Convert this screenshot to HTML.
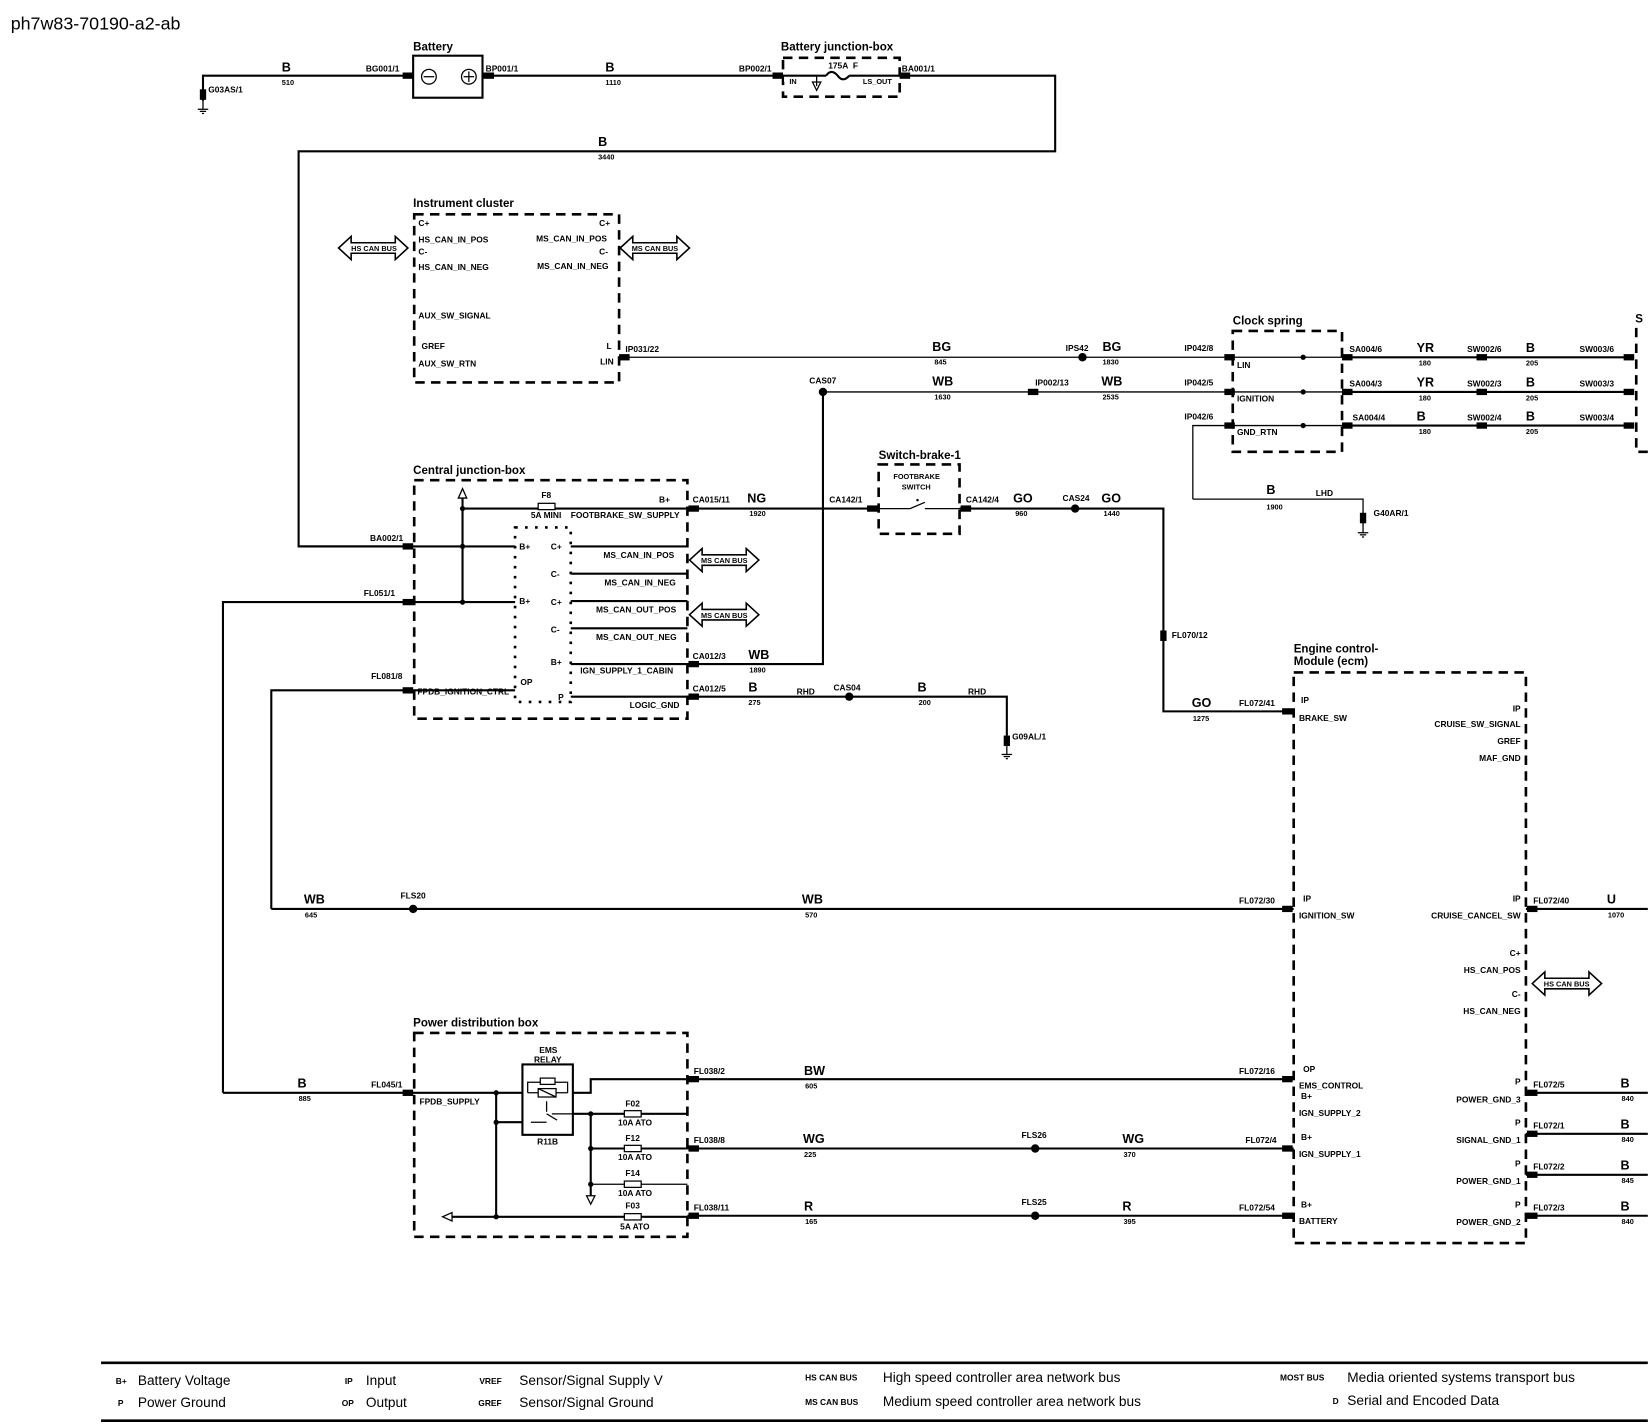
<!DOCTYPE html>
<html><head><meta charset="utf-8"><style>
html,body{margin:0;padding:0;background:#fff}
svg{display:block}
text{font-family:"Liberation Sans",Arial,sans-serif;fill:#000}
.s{font-size:8px;font-weight:bold}
.c{font-size:12px;font-weight:bold}
.n{font-size:7px;font-weight:bold}
.t{font-size:11px;font-weight:bold}
.l{font-size:13px}
.w{stroke:#000;stroke-width:2;fill:none}
.th{stroke:#000;stroke-width:1.2;fill:none}
.d{stroke:#000;stroke-width:2.5;fill:none;stroke-dasharray:9,6}
.dt{stroke:#000;stroke-width:2.5;fill:none;stroke-dasharray:2.5,7}
</style></head><body>
<svg width="1648" height="1428" viewBox="0 0 1568 1359" xmlns="http://www.w3.org/2000/svg">
<defs>
<g id="bus"><polygon points="0,0 12,-11 12,-5 54,-5 54,-11 66,0 54,11 54,5 12,5 12,11" fill="#fff" stroke="#000" stroke-width="1.5"/></g>
<g id="gnd"><line x1="0" y1="0" x2="0" y2="8" stroke="#000" stroke-width="1.2"/><line x1="-5" y1="8" x2="5" y2="8" stroke="#000" stroke-width="1.2"/><line x1="-3" y1="10" x2="3" y2="10" stroke="#000" stroke-width="1.2"/><line x1="-1" y1="12" x2="1" y2="12" stroke="#000" stroke-width="1.2"/></g>
<rect id="cn" x="-5" y="-3" width="10" height="6" fill="#000"/>
<rect id="cv" x="-3" y="-5" width="6" height="10" fill="#000"/>
</defs>
<text x="10" y="28" style="font-size:17px">ph7w83-70190-a2-ab</text>

<!-- top -->
<path class="w" d="M193,96 V72 H393 M459,72 H745 M856,72 H1004 V144 H284 V520 H393"/>
<use href="#cv" x="193" y="90"/><use href="#gnd" x="193" y="96"/>
<text class="s" x="198" y="88">G03AS/1</text>
<text class="c" x="268" y="68">B</text><text class="n" x="268" y="81">510</text>
<text class="s" x="348" y="68">BG001/1</text>
<use href="#cn" x="388" y="72"/><use href="#cn" x="465" y="72"/>
<rect x="393" y="53" width="66" height="40" fill="#fff" stroke="#000" stroke-width="2"/>
<text class="t" x="393" y="48">Battery</text>
<circle cx="408" cy="73" r="7" class="th"/><line x1="403" y1="73" x2="413" y2="73" class="th"/>
<circle cx="446" cy="73" r="7" class="th"/><line x1="441" y1="73" x2="451" y2="73" class="th"/><line x1="446" y1="68" x2="446" y2="78" class="th"/>
<text class="s" x="462" y="68">BP001/1</text>
<text class="c" x="576" y="68">B</text><text class="n" x="576" y="81">1110</text>
<text class="s" x="703" y="68">BP002/1</text>
<use href="#cn" x="740" y="72"/><use href="#cn" x="861" y="72"/>
<rect x="745" y="55" width="111" height="37" class="d"/>
<rect x="746" y="66" width="108" height="12" fill="#fff"/>
<path class="w" d="M745,72 H786 M808,72 H856"/>
<path class="w" d="M786,72 q5,-7 11,0 q5,7 11,0"/>
<path class="th" d="M777,72 V82 M773,78 L777,86 L781,78 Z"/>
<text class="t" x="743" y="48">Battery junction-box</text>
<text class="n" x="751" y="80">IN</text><text class="s" x="788" y="65">175A&#160;&#160;F</text><text class="n" x="821" y="80">LS_OUT</text>
<text class="s" x="858" y="68">BA001/1</text>
<text class="c" x="569" y="139">B</text><text class="n" x="569" y="152">3440</text>

<!-- instrument cluster -->
<rect x="394" y="204" width="195" height="160" class="d"/>
<text class="t" x="393" y="197">Instrument cluster</text>
<text class="s" x="398" y="215">C+</text><text class="s" x="398" y="231">HS_CAN_IN_POS</text><text class="s" x="398" y="242">C-</text><text class="s" x="398" y="257">HS_CAN_IN_NEG</text>
<text class="s" x="398" y="303">AUX_SW_SIGNAL</text><text class="s" x="401" y="332">GREF</text><text class="s" x="398" y="349">AUX_SW_RTN</text>
<text class="s" x="570" y="215">C+</text><text class="s" x="510" y="230">MS_CAN_IN_POS</text><text class="s" x="570" y="242">C-</text><text class="s" x="511" y="256">MS_CAN_IN_NEG</text>
<text class="s" x="577" y="332">L</text><text class="s" x="571" y="347">LIN</text>
<use href="#bus" x="322" y="236"/><text class="n" x="334" y="239">HS CAN BUS</text>
<use href="#bus" x="590" y="236"/><text class="n" x="601" y="239">MS CAN BUS</text>

<!-- LIN / WB / GND rows -->
<path class="th" d="M589,340 H1173 M783,373 H1173 M1135,475 V405 H1173 M1135,475 H1297 V500"/>
<path class="w" d="M1277,340 H1555 M1277,373 H1555 M1277,405 H1555"/>
<use href="#cn" x="594" y="340"/>
<text class="s" x="595" y="335">IP031/22</text>
<text class="c" x="887" y="334">BG</text><text class="n" x="889" y="347">845</text>
<circle cx="1030" cy="340" r="4"/><text class="s" x="1014" y="334">IPS42</text>
<text class="c" x="1049" y="334">BG</text><text class="n" x="1049" y="347">1830</text>
<text class="s" x="1127" y="334">IP042/8</text><use href="#cn" x="1170" y="340"/>
<circle cx="783" cy="373" r="4"/><text class="s" x="770" y="365">CAS07</text>
<text class="c" x="887" y="367">WB</text><text class="n" x="889" y="380">1630</text>
<use href="#cn" x="983" y="373"/><text class="s" x="985" y="367">IP002/13</text>
<text class="c" x="1048" y="367">WB</text><text class="n" x="1049" y="380">2535</text>
<text class="s" x="1127" y="367">IP042/5</text><use href="#cn" x="1170" y="373"/>
<text class="s" x="1127" y="399">IP042/6</text><use href="#cn" x="1170" y="405"/>
<text class="c" x="1205" y="470">B</text><text class="s" x="1252" y="472">LHD</text><text class="n" x="1205" y="485">1900</text>
<use href="#cv" x="1297" y="493"/><use href="#gnd" x="1297" y="499"/><text class="s" x="1307" y="491">G40AR/1</text>

<rect x="1173" y="315" width="104" height="115" class="d"/>
<text class="t" x="1173" y="309">Clock spring</text>
<path class="th" d="M1173,340 H1277 M1173,373 H1277 M1173,405 H1277"/>
<text class="s" x="1177" y="350">LIN</text><text class="s" x="1177" y="382">IGNITION</text><text class="s" x="1177" y="414">GND_RTN</text>
<circle cx="1240" cy="340" r="2.5"/><circle cx="1240" cy="373" r="2.5"/><circle cx="1240" cy="405" r="2.5"/>
<use href="#cn" x="1282" y="340"/><use href="#cn" x="1282" y="373"/><use href="#cn" x="1282" y="405"/>
<text class="s" x="1284" y="335">SA004/6</text><text class="c" x="1348" y="335">YR</text><text class="n" x="1350" y="348">180</text>
<text class="s" x="1396" y="335">SW002/6</text><text class="c" x="1452" y="335">B</text><text class="n" x="1452" y="348">205</text>
<text class="s" x="1503" y="335">SW003/6</text>
<text class="s" x="1284" y="368">SA004/3</text><text class="c" x="1348" y="368">YR</text><text class="n" x="1350" y="381">180</text>
<text class="s" x="1396" y="368">SW002/3</text><text class="c" x="1452" y="368">B</text><text class="n" x="1452" y="381">205</text>
<text class="s" x="1503" y="368">SW003/3</text>
<text class="s" x="1287" y="400">SA004/4</text><text class="c" x="1348" y="400">B</text><text class="n" x="1350" y="413">180</text>
<text class="s" x="1396" y="400">SW002/4</text><text class="c" x="1452" y="400">B</text><text class="n" x="1452" y="413">205</text>
<text class="s" x="1503" y="400">SW003/4</text>
<use href="#cn" x="1410" y="340"/><use href="#cn" x="1410" y="373"/><use href="#cn" x="1410" y="405"/>
<use href="#cn" x="1550" y="340"/><use href="#cn" x="1550" y="373"/><use href="#cn" x="1550" y="405"/>
<path class="d" d="M1557,312 V430 H1568"/>
<text class="t" x="1556" y="307">S</text>

<!-- central junction box -->
<rect x="394" y="457" width="260" height="227" class="d"/>
<rect x="490" y="502" width="53" height="166" class="dt"/>
<text class="t" x="393" y="451">Central junction-box</text>
<path class="w" d="M440,573 V474 M440,484 H512 M528,484 H836 M284,520 H490 M212,1040 V573 H490 M258,865 V657 H490"/>
<path class="th" d="M436,474 L440,465 L444,474 Z"/>
<circle cx="440" cy="484" r="2.5"/><circle cx="440" cy="520" r="2.5"/><circle cx="440" cy="573" r="2.5"/>
<rect x="512" y="479" width="16" height="6" fill="#fff" stroke="#000" stroke-width="1.2"/>
<text class="s" x="515" y="474">F8</text><text class="s" x="505" y="493">5A MINI</text>
<text class="s" x="627" y="478">B+</text><text class="s" x="543" y="493">FOOTBRAKE_SW_SUPPLY</text>
<use href="#cn" x="388" y="520"/><text class="s" x="352" y="515">BA002/1</text>
<use href="#cn" x="388" y="573"/><text class="s" x="346" y="567">FL051/1</text>
<use href="#cn" x="388" y="657"/><text class="s" x="353" y="646">FL081/8</text>
<text class="s" x="494" y="523">B+</text><text class="s" x="494" y="575">B+</text><text class="s" x="495" y="652">OP</text>
<path class="w" d="M543,520 H654 M543,546 H654 M543,572 H654 M543,598 H654 M783,373 V632 H543 M543,663 H958 V710"/>
<text class="s" x="524" y="523">C+</text><text class="s" x="574" y="531">MS_CAN_IN_POS</text>
<text class="s" x="524" y="549">C-</text><text class="s" x="575" y="557">MS_CAN_IN_NEG</text>
<text class="s" x="524" y="576">C+</text><text class="s" x="567" y="583">MS_CAN_OUT_POS</text>
<text class="s" x="524" y="602">C-</text><text class="s" x="567" y="609">MS_CAN_OUT_NEG</text>
<text class="s" x="524" y="633">B+</text><text class="s" x="552" y="641">IGN_SUPPLY_1_CABIN</text>
<text class="s" x="397" y="661">FPDB_IGNITION_CTRL</text>
<text class="s" x="531" y="666">P</text><text class="s" x="599" y="674">LOGIC_GND</text>
<use href="#bus" x="656" y="533"/><text class="n" x="667" y="536">MS CAN BUS</text>
<use href="#bus" x="656" y="585"/><text class="n" x="667" y="588">MS CAN BUS</text>
<use href="#cn" x="660" y="484"/><use href="#cn" x="660" y="632"/><use href="#cn" x="660" y="663"/>
<text class="s" x="659" y="478">CA015/11</text><text class="c" x="711" y="478">NG</text><text class="n" x="713" y="491">1920</text>
<text class="s" x="659" y="627">CA012/3</text><text class="c" x="712" y="627">WB</text><text class="n" x="713" y="640">1890</text>
<text class="s" x="659" y="658">CA012/5</text><text class="c" x="712" y="658">B</text><text class="n" x="712" y="671">275</text>
<text class="s" x="758" y="661">RHD</text><circle cx="808" cy="663" r="4"/><text class="s" x="793" y="657">CAS04</text>
<text class="c" x="873" y="658">B</text><text class="n" x="874" y="671">200</text><text class="s" x="921" y="661">RHD</text>
<use href="#cv" x="958" y="705"/><use href="#gnd" x="958" y="710"/><text class="s" x="963" y="704">G09AL/1</text>

<!-- switch brake -->
<rect x="836" y="442" width="77" height="66" class="d"/>
<text class="t" x="836" y="437">Switch-brake-1</text>
<text class="n" x="850" y="456">FOOTBRAKE</text><text class="n" x="858" y="466">SWITCH</text>
<path class="th" d="M836,484 H866 L880,478 M880,484 H913"/><circle cx="873" cy="476" r="1.2"/>
<use href="#cn" x="830" y="484"/><use href="#cn" x="919" y="484"/>
<text class="s" x="789" y="478">CA142/1</text><text class="s" x="919" y="478">CA142/4</text>
<path class="w" d="M913,484 H1107 V677 H1231"/>
<text class="c" x="964" y="478">GO</text><text class="n" x="966" y="491">960</text>
<circle cx="1023" cy="484" r="4"/><text class="s" x="1011" y="477">CAS24</text>
<text class="c" x="1048" y="478">GO</text><text class="n" x="1050" y="491">1440</text>
<use href="#cv" x="1107" y="605"/><text class="s" x="1115" y="607">FL070/12</text>
<text class="c" x="1134" y="673">GO</text><text class="n" x="1135" y="686">1275</text>
<text class="s" x="1179" y="672">FL072/41</text><use href="#cn" x="1225" y="677"/>

<!-- WB ignition -->
<path class="w" d="M258,865 H1231"/>
<text class="c" x="289" y="860">WB</text><text class="n" x="290" y="873">645</text>
<circle cx="393" cy="865" r="4"/><text class="s" x="381" y="855">FLS20</text>
<text class="c" x="763" y="860">WB</text><text class="n" x="766" y="873">570</text>
<text class="s" x="1179" y="860">FL072/30</text><use href="#cn" x="1225" y="865"/>

<!-- ECM -->
<rect x="1231" y="640" width="221" height="543" class="d"/>
<text class="t" x="1231" y="621">Engine control-</text><text class="t" x="1231" y="633">Module (ecm)</text>
<text class="s" x="1238" y="669">IP</text><text class="s" x="1236" y="686">BRAKE_SW</text>
<text class="s" x="1240" y="858">IP</text><text class="s" x="1236" y="874">IGNITION_SW</text>
<text class="s" x="1240" y="1020">OP</text><text class="s" x="1236" y="1036">EMS_CONTROL</text>
<text class="s" x="1238" y="1046">B+</text><text class="s" x="1236" y="1062">IGN_SUPPLY_2</text>
<text class="s" x="1238" y="1085">B+</text><text class="s" x="1236" y="1101">IGN_SUPPLY_1</text>
<text class="s" x="1238" y="1149">B+</text><text class="s" x="1236" y="1165">BATTERY</text>
<g text-anchor="end">
<text class="s" x="1447" y="677">IP</text><text class="s" x="1447" y="692">CRUISE_SW_SIGNAL</text>
<text class="s" x="1447" y="708">GREF</text><text class="s" x="1447" y="724">MAF_GND</text>
<text class="s" x="1447" y="858">IP</text><text class="s" x="1447" y="874">CRUISE_CANCEL_SW</text>
<text class="s" x="1447" y="910">C+</text><text class="s" x="1447" y="926">HS_CAN_POS</text>
<text class="s" x="1447" y="949">C-</text><text class="s" x="1447" y="965">HS_CAN_NEG</text>
<text class="s" x="1447" y="1032">P</text><text class="s" x="1447" y="1049">POWER_GND_3</text>
<text class="s" x="1447" y="1071">P</text><text class="s" x="1447" y="1088">SIGNAL_GND_1</text>
<text class="s" x="1447" y="1110">P</text><text class="s" x="1447" y="1127">POWER_GND_1</text>
<text class="s" x="1447" y="1149">P</text><text class="s" x="1447" y="1166">POWER_GND_2</text>
</g>
<path class="w" d="M1452,865 H1568 M1452,1040 H1568 M1452,1079 H1568 M1452,1118 H1568 M1452,1157 H1568"/>
<use href="#cn" x="1458" y="865"/><use href="#cn" x="1458" y="1040"/><use href="#cn" x="1458" y="1079"/><use href="#cn" x="1458" y="1118"/><use href="#cn" x="1458" y="1157"/>
<text class="s" x="1459" y="860">FL072/40</text><text class="c" x="1529" y="860">U</text><text class="n" x="1530" y="873">1070</text>
<use href="#bus" x="1458" y="936"/><text class="n" x="1469" y="939">HS CAN BUS</text>
<text class="s" x="1459" y="1035">FL072/5</text><text class="c" x="1542" y="1035">B</text><text class="n" x="1543" y="1048">840</text>
<text class="s" x="1459" y="1074">FL072/1</text><text class="c" x="1542" y="1074">B</text><text class="n" x="1543" y="1087">840</text>
<text class="s" x="1459" y="1113">FL072/2</text><text class="c" x="1542" y="1113">B</text><text class="n" x="1543" y="1126">845</text>
<text class="s" x="1459" y="1152">FL072/3</text><text class="c" x="1542" y="1152">B</text><text class="n" x="1543" y="1165">840</text>

<!-- PDB -->
<rect x="394" y="983" width="260" height="194" class="d"/>
<text class="t" x="393" y="977">Power distribution box</text>
<path class="w" d="M212,1040 H505 M472,1040 V1158 M472,1068 H520 M545,1040 H562 V1027 H1231 M525,1060 H654 M562,1060 V1138 M562,1093 H654 M430,1158 H654 M654,1093 H1231 M654,1157 H1231"/>
<path class="th" d="M562,1127 H654"/>
<path class="th" d="M558,1138 L562,1146 L566,1138 Z M430,1154 L421,1158 L430,1162 Z"/>
<circle cx="472" cy="1040" r="2.5"/><circle cx="472" cy="1068" r="2.5"/><circle cx="472" cy="1158" r="2.5"/>
<circle cx="562" cy="1060" r="2.5"/><circle cx="562" cy="1093" r="2.5"/><circle cx="562" cy="1127" r="2.5"/>
<rect x="497" y="1013" width="48" height="67" fill="#fff" stroke="#000" stroke-width="2"/>
<path class="th" d="M502,1040 V1030 H540 V1040 M502,1040 H540 M520,1060 L530,1066 M505,1068 H520 M525,1060 H545 M520,1048 V1058"/>
<rect x="514" y="1026" width="14" height="6" fill="#fff" stroke="#000" stroke-width="1.2"/>
<rect x="512" y="1036" width="17" height="8" fill="#fff" stroke="#000" stroke-width="1.2"/>
<line x1="512" y1="1036" x2="529" y2="1044" class="th"/>
<text class="s" x="513" y="1002">EMS</text><text class="s" x="508" y="1011">RELAY</text>
<text class="s" x="511" y="1089">R11B</text>
<text class="s" x="399" y="1051">FPDB_SUPPLY</text>
<use href="#cn" x="388" y="1040"/><text class="s" x="353" y="1035">FL045/1</text>
<text class="c" x="283" y="1035">B</text><text class="n" x="284" y="1048">885</text>
<rect x="594" y="1057" width="16" height="6" fill="#fff" stroke="#000" stroke-width="1.2"/>
<rect x="594" y="1090" width="16" height="6" fill="#fff" stroke="#000" stroke-width="1.2"/>
<rect x="594" y="1124" width="16" height="6" fill="#fff" stroke="#000" stroke-width="1.2"/>
<rect x="594" y="1155" width="16" height="6" fill="#fff" stroke="#000" stroke-width="1.2"/>
<text class="s" x="595" y="1053">F02</text><text class="s" x="588" y="1071">10A ATO</text>
<text class="s" x="595" y="1086">F12</text><text class="s" x="588" y="1104">10A ATO</text>
<text class="s" x="595" y="1119">F14</text><text class="s" x="588" y="1138">10A ATO</text>
<text class="s" x="595" y="1150">F03</text><text class="s" x="590" y="1170">5A ATO</text>
<use href="#cn" x="660" y="1027"/><use href="#cn" x="660" y="1093"/><use href="#cn" x="660" y="1157"/>
<text class="s" x="660" y="1022">FL038/2</text><text class="c" x="765" y="1023">BW</text><text class="n" x="766" y="1036">605</text>
<text class="s" x="1179" y="1022">FL072/16</text><use href="#cn" x="1225" y="1027"/>
<text class="s" x="660" y="1088">FL038/8</text><text class="c" x="764" y="1088">WG</text><text class="n" x="765" y="1101">225</text>
<circle cx="985" cy="1093" r="4"/><text class="s" x="972" y="1083">FLS26</text>
<text class="c" x="1068" y="1088">WG</text><text class="n" x="1069" y="1101">370</text>
<text class="s" x="1185" y="1088">FL072/4</text><use href="#cn" x="1225" y="1093"/>
<text class="s" x="660" y="1152">FL038/11</text><text class="c" x="765" y="1152">R</text><text class="n" x="766" y="1165">165</text>
<circle cx="985" cy="1157" r="4"/><text class="s" x="972" y="1147">FLS25</text>
<text class="c" x="1068" y="1152">R</text><text class="n" x="1069" y="1165">395</text>
<text class="s" x="1179" y="1152">FL072/54</text><use href="#cn" x="1225" y="1157"/>

<!-- legend -->
<path d="M96,1297 H1568 M96,1352 H1568" stroke="#000" stroke-width="2.5"/>
<text class="s" x="110" y="1317">B+</text><text class="l" x="131" y="1318">Battery Voltage</text>
<text class="s" x="112" y="1338">P</text><text class="l" x="131" y="1339">Power Ground</text>
<text class="s" x="328" y="1317">IP</text><text class="l" x="348" y="1318">Input</text>
<text class="s" x="325" y="1338">OP</text><text class="l" x="348" y="1339">Output</text>
<text class="s" x="456" y="1317">VREF</text><text class="l" x="494" y="1318">Sensor/Signal Supply V</text>
<text class="s" x="455" y="1338">GREF</text><text class="l" x="494" y="1339">Sensor/Signal Ground</text>
<text class="s" x="766" y="1314">HS CAN BUS</text><text class="l" x="840" y="1315">High speed controller area network bus</text>
<text class="s" x="766" y="1337">MS CAN BUS</text><text class="l" x="840" y="1338">Medium speed controller area network bus</text>
<text class="s" x="1218" y="1314">MOST BUS</text><text class="l" x="1282" y="1315">Media oriented systems transport bus</text>
<text class="s" x="1268" y="1336">D</text><text class="l" x="1282" y="1337">Serial and Encoded Data</text>
</svg>
</body></html>
